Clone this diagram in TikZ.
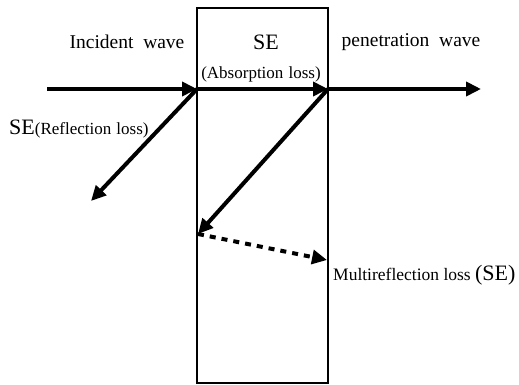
\documentclass[tikz,border=0pt]{standalone}
\usepackage{fontspec}
\setmainfont{Liberation Serif}
\usetikzlibrary{arrows.meta}
\begin{document}
\begin{tikzpicture}[x=1pt,y=-1pt,
  wave/.style={line width=4pt,-{Triangle[length=15pt,width=14pt]}},
  dotwave/.style={line width=4pt,dash pattern=on 6pt off 6pt,-{Triangle[length=15pt,width=14pt]}},
  lbl/.style={inner sep=0pt,font=\fontsize{19.5}{22}\selectfont},
  sml/.style={inner sep=0pt,font=\fontsize{17}{19}\selectfont}]
\useasboundingbox (0,0) rectangle (519,385);
\node[draw,line width=2.3pt,minimum width=131pt,minimum height=375pt,inner sep=0pt] (slab) at (262.5,195.5) {};
\coordinate (inc) at (47,89);
\coordinate (front) at (197,89);
\coordinate (back) at (328,89);
\coordinate (out) at (481,89);
\coordinate (refl) at (91,201);
\coordinate (inner) at (198,234);
\coordinate (multi) at (327,260);
\draw[wave] (inc) -- (front);
\draw[wave] (front) -- (back);
\draw[wave] (back) -- (out);
\draw[wave] (front) -- (refl);
\draw[wave] (back) -- (inner);
\draw[dotwave] (inner) -- (multi);
\node[lbl] (tinc) at (127,42) {Incident\hspace{0.5em}wave};
\node[inner sep=0pt,font=\fontsize{22}{24}\selectfont] (tse) at (266,42) {SE};
\node[sml] (tabs) at (261,74) {(Absorption\hspace{0.3em}loss)};
\node[lbl] (tpen) at (411,42) {penetration\hspace{0.5em}wave};
\node[inner sep=0pt,anchor=west] (trefl) at (9,129) {\fontsize{22}{24}\selectfont SE\fontsize{17}{19}\selectfont(Reflection\hspace{0.3em}loss)};
\node[inner sep=0pt,anchor=west] (tmulti) at (333,275) {\fontsize{17.5}{19}\selectfont Multireflection loss \fontsize{22}{24}\selectfont(SE)};
\end{tikzpicture}
\end{document}
